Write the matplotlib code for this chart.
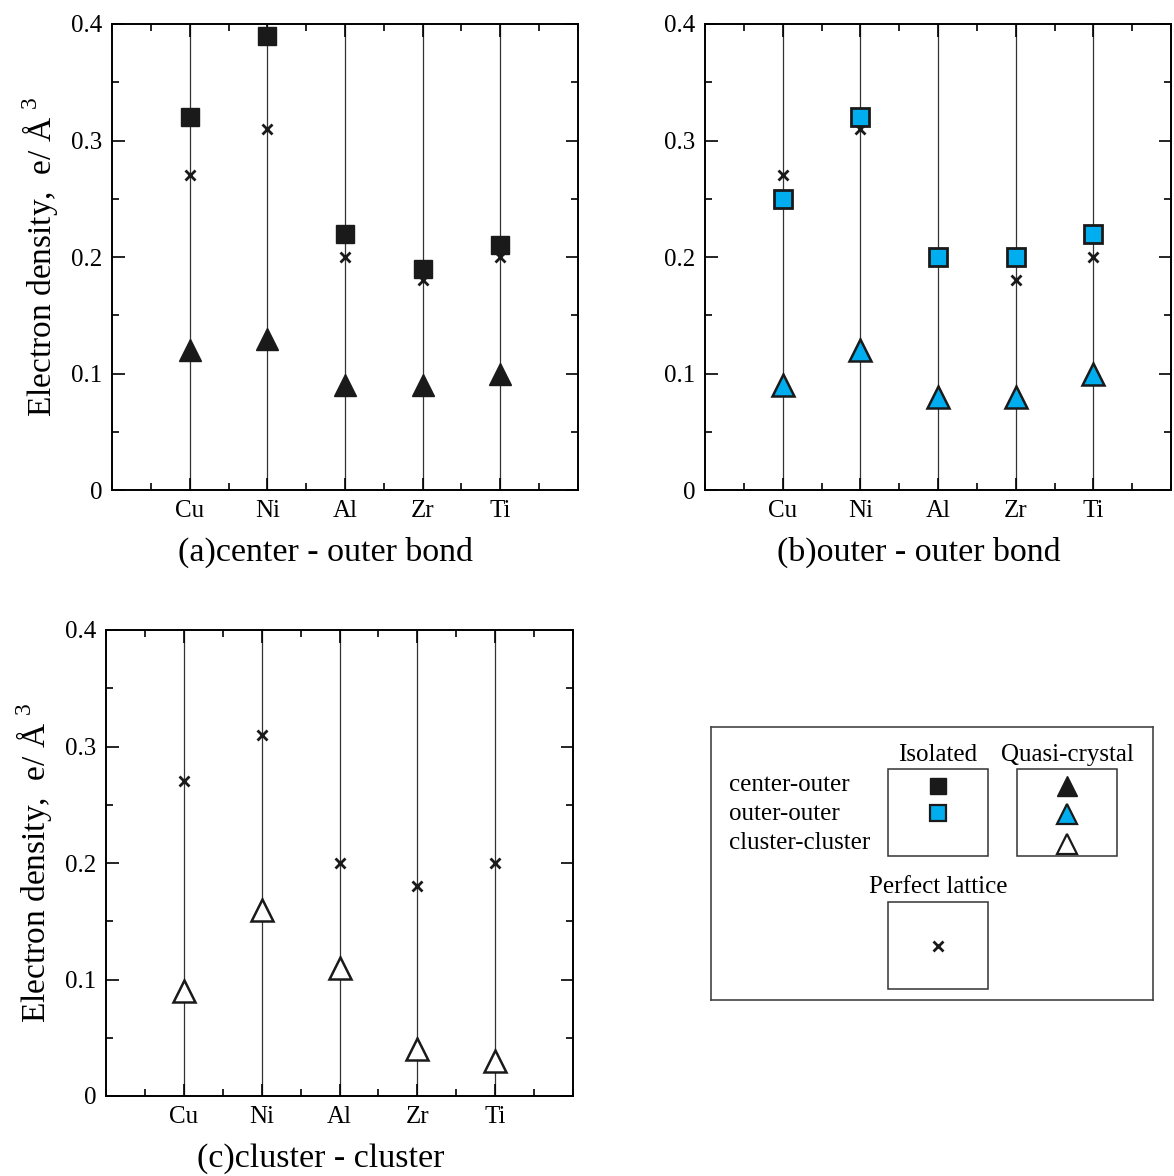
"""Electron density along bonds: three panels plus a hand-built legend"""

import matplotlib
matplotlib.use("Agg")
import matplotlib.pyplot as plt
from matplotlib.patches import Rectangle
from matplotlib.ticker import MultipleLocator

plt.rcParams["font.family"] = ["Liberation Serif", "DejaVu Serif"]
plt.rcParams["mathtext.fontset"] = "custom"
plt.rcParams["mathtext.rm"] = "Liberation Serif"

elements = ["Cu", "Ni", "Al", "Zr", "Ti"]
xpos = [1, 2, 3, 4, 5]

perfect = [0.27, 0.31, 0.20, 0.18, 0.20]

iso_center_outer = [0.32, 0.39, 0.22, 0.19, 0.21]
quasi_center_outer = [0.12, 0.13, 0.09, 0.09, 0.10]

iso_outer_outer = [0.25, 0.32, 0.20, 0.20, 0.22]
quasi_outer_outer = [0.09, 0.12, 0.08, 0.08, 0.10]

quasi_cluster = [0.09, 0.16, 0.11, 0.04, 0.03]

BLUE = "#00AEEF"
W, H = 1174, 1176


def px_axes(fig, left, top, right, bottom):
    return fig.add_axes([left / W, 1 - bottom / H, (right - left) / W, (bottom - top) / H])


def style_axes(ax, title, ylabel=True):
    ax.set_xlim(0, 6)
    ax.set_ylim(0, 0.4)
    ax.vlines(xpos, 0, 0.4, color="#333333", lw=0.9, zorder=1)
    ax.set_xticks(xpos)
    ax.set_xticklabels(elements)
    ax.set_yticks([0, 0.1, 0.2, 0.3, 0.4])
    ax.set_yticklabels(["0", "0.1", "0.2", "0.3", "0.4"])
    ax.xaxis.set_minor_locator(MultipleLocator(0.5))
    ax.yaxis.set_minor_locator(MultipleLocator(0.05))
    ax.tick_params(which="both", direction="in", top=True, right=True, labelsize=18, width=1.2)
    ax.tick_params(which="major", length=9, pad=7)
    ax.tick_params(which="minor", length=5)
    for s in ax.spines.values():
        s.set_linewidth(1.4)
    # the subtitles sit a little left of the axes centre
    ax.set_xlabel(title, fontsize=24.5)
    ax.xaxis.set_label_coords(0.459, -0.101)
    if ylabel:
        ax.set_ylabel(r"Electron density,  e/ Å$^{\ 3}$", fontsize=24)
        ax.yaxis.set_label_coords(-0.112, 0.5)


fig = plt.figure(figsize=(W / 100, H / 100), dpi=100)

# (a)
ax = px_axes(fig, 112, 24, 578, 490)
style_axes(ax, "(a)center - outer bond")
ax.plot(xpos, iso_center_outer, "s", ms=13, color="#1a1a1a", zorder=3)
ax.plot(xpos, quasi_center_outer, "^", ms=16, color="#1a1a1a", zorder=3)
ax.plot(xpos, perfect, "x", ms=7, mew=2, color="#1a1a1a", zorder=4)

# (b)
ax = px_axes(fig, 705, 24, 1171, 490)
style_axes(ax, "(b)outer - outer bond", ylabel=False)
ax.plot(xpos, perfect, "x", ms=7, mew=2, color="#1a1a1a", zorder=2)
ax.plot(xpos, iso_outer_outer, "s", ms=13, mfc=BLUE, mec="#1a1a1a", mew=2, zorder=3)
ax.plot(xpos, quasi_outer_outer, "^", ms=16, mfc=BLUE, mec="#1a1a1a", mew=1.8, zorder=3)

# (c)
ax = px_axes(fig, 106, 630, 573, 1096)
style_axes(ax, "(c)cluster - cluster")
ax.plot(xpos, perfect, "x", ms=7, mew=2, color="#1a1a1a", zorder=4)
ax.plot(xpos, quasi_cluster, "^", ms=16, mfc="white", mec="#1a1a1a", mew=1.8, zorder=3)

# legend drawn in pixel coordinates
lg = px_axes(fig, 711, 727, 1153, 1000)
lg.set_xlim(711, 1153)
lg.set_ylim(1000, 727)
lg.set_xticks([])
lg.set_yticks([])
for s in lg.spines.values():
    s.set_linewidth(1.2)
    s.set_color("#444444")

for (x0, y0, x1, y1) in [(888, 769, 988, 856), (1017, 769, 1117, 856), (888, 902, 988, 989)]:
    lg.add_patch(Rectangle((x0, y0), x1 - x0, y1 - y0, fill=False, ec="#333333", lw=1.1))

lg.text(938, 755, "Isolated", ha="center", va="center", fontsize=18)
lg.text(1067, 755, "Quasi-crystal", ha="center", va="center", fontsize=18)
lg.text(938, 887, "Perfect lattice", ha="center", va="center", fontsize=18)
for y, lab in zip([785, 814, 843], ["center-outer", "outer-outer", "cluster-cluster"]):
    lg.text(729, y, lab, ha="left", va="center", fontsize=18)

lg.plot([938], [786], "s", ms=11, color="#1a1a1a")
lg.plot([938], [813], "s", ms=11, mfc=BLUE, mec="#1a1a1a", mew=1.6)
lg.plot([1067], [786], "^", ms=14, color="#1a1a1a")
lg.plot([1067], [814], "^", ms=14, mfc=BLUE, mec="#1a1a1a", mew=1.6)
lg.plot([1067], [844], "^", ms=14, mfc="white", mec="#1a1a1a", mew=1.6)
lg.plot([938], [946], "x", ms=7, mew=2, color="#1a1a1a")

fig.savefig("out.png", dpi=100)
plt.close(fig)
